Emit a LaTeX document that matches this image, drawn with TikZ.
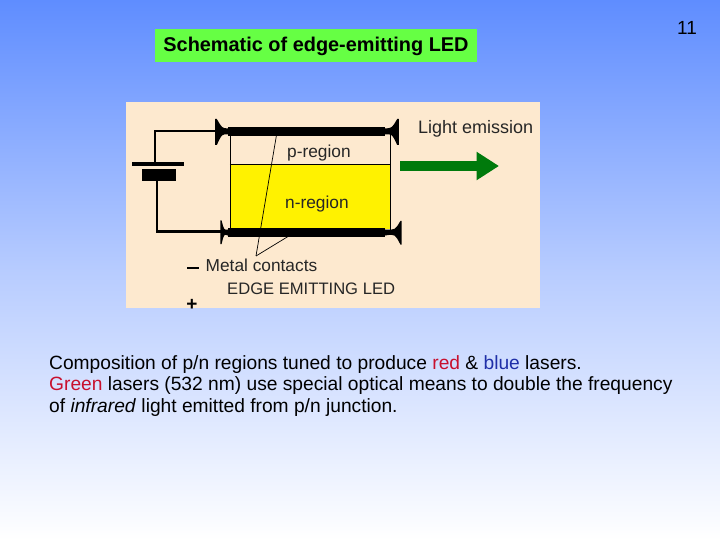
\documentclass[tikz,border=0pt]{standalone}
\usepackage{fontspec}
\setmainfont{Liberation Sans}
\usetikzlibrary{calc,arrows.meta,positioning}
\definecolor{skyx}{HTML}{5F8DFF}
\definecolor{beigex}{HTML}{FDE9CF}
\definecolor{titlex}{HTML}{66FF44}
\definecolor{emitx}{HTML}{007A0C}
\definecolor{redx}{HTML}{C8102E}
\definecolor{bluex}{HTML}{1F2FA8}
\tikzset{
  wire/.style={line width=2pt,black},
  plate/.style={fill=black,draw=none,inner sep=0pt},
  leader/.style={line width=0.7pt,black},
  lbl/.style={font=\fontsize{17.3}{20}\selectfont,text=black!85,inner sep=0pt},
  tick/.style={fill=black,draw=none}
}
\begin{document}
\begin{tikzpicture}[x=1pt,y=-1pt]
\useasboundingbox (0,0) rectangle (720,540);
\shade[top color=skyx,bottom color=white,middle color=skyx!45!white] (0,0) rectangle (720,540);
\node[fill=titlex,minimum width=322pt,minimum height=33pt,inner sep=0pt] (title) at (316,45.5) {};
\node[font=\fontsize{19.9}{22}\selectfont\bfseries,inner sep=0pt,anchor=base] (titletext) at (316,52) {Schematic of edge-emitting LED};
\node[font=\fontsize{19}{20}\selectfont,inner sep=0pt] (page) at (687,27.5) {11};
\node[fill=beigex,minimum width=414pt,minimum height=206pt,inner sep=0pt] (panel) at (333,205) {};
% regions
\node[fill=yellow,minimum width=160pt,minimum height=64pt,inner sep=0pt] (nreg) at (310,197) {};
\draw[line width=0.6pt] (230,131) -- (230,232) (390,131) -- (390,232);
\draw[line width=0.6pt] (nreg.north west) -- (nreg.north east);
\node[plate,minimum width=157pt,minimum height=8.5pt] (ptop) at (306.5,131.5) {};
\node[plate,minimum width=157pt,minimum height=8.5pt] (pbot) at (306.5,232.5) {};
% contact terminals
\coordinate (tl) at (216,131);
\coordinate (tr) at (398,131);
\coordinate (bl) at (221,231.5);
\coordinate (br) at (401,232);
\fill[tick] ($(ptop.west)+(0,-3)$) .. controls (222,128) .. ($(tl)+(0.8,-12)$) -- ($(tl)+(-0.8,-12)$) -- ($(tl)+(-0.8,14)$) -- ($(tl)+(0.8,14)$) .. controls (222,134) .. ($(ptop.west)+(0,3)$) -- cycle;
\fill[tick] ($(ptop.east)+(0,-3)$) .. controls (392,128) .. ($(tr)+(-0.8,-12)$) -- ($(tr)+(0.8,-12)$) -- ($(tr)+(0.8,14)$) -- ($(tr)+(-0.8,14)$) .. controls (392,134) .. ($(ptop.east)+(0,3)$) -- cycle;
\fill[tick] ($(pbot.west)+(0,-3)$) .. controls (224,230) .. ($(bl)+(0.6,-11)$) -- ($(bl)+(-0.6,-11)$) -- ($(bl)+(-0.6,12.5)$) -- ($(bl)+(0.6,12.5)$) .. controls (224,234) .. ($(pbot.west)+(0,3)$) -- cycle;
\fill[tick] ($(pbot.east)+(0,-3)$) .. controls (395,230) .. ($(br)+(-0.6,-11)$) -- ($(br)+(0.6,-11)$) -- ($(br)+(0.6,12.5)$) -- ($(br)+(-0.6,12.5)$) .. controls (395,234) .. ($(pbot.east)+(0,3)$) -- cycle;
% battery
\node[plate,minimum width=52pt,minimum height=3.5pt] (batlong) at (158,164) {};
\node[plate,minimum width=34pt,minimum height=12pt] (batshort) at (159,175) {};
\coordinate (wt) at (155,131);
\coordinate (wb) at (157,231.5);
\draw[wire] (batlong.north -| wt) -- (wt) -- (tl);
\draw[wire] (batshort.south -| wb) -- (wb) -- (bl);
% emission
\coordinate (emitstart) at (400,166);
\coordinate (emitend) at (499,166);
\draw[emitx,line width=10pt,-{Triangle[length=22.5pt,width=27pt]}] (emitstart) -- (emitend);
% labels
\node[lbl,anchor=base west] (plabel) at (287,158) {p-region};
\node[lbl,anchor=base west] (nlabel) at (285,208.5) {n-region};
\node[lbl,anchor=base west,font=\fontsize{18}{20}\selectfont] (light) at (418,133.5) {Light emission};
\node[lbl,anchor=base west] (metal) at (205.5,271.5) {Metal contacts};
\node[lbl,anchor=base west,font=\fontsize{16.6}{20}\selectfont] (edge) at (227,294.5) {EDGE EMITTING LED};
\node[fill=black,minimum width=12pt,minimum height=2pt,inner sep=0pt] (minus) at (192.8,268) {};
\node[font=\fontsize{19}{16}\selectfont\bfseries,inner sep=0pt] (plus) at (191.8,305) {+};
\coordinate (lead) at (256,256);
\draw[leader] (lead) -- (276.5,135);
\draw[leader] (lead) -- (288,236.5);
% caption
\node[anchor=north west,align=left,inner sep=0pt,font=\fontsize{19.2}{21.7}\selectfont] (caption) at (49,355) {Composition of p/n regions tuned to produce \textcolor{redx}{red} \& \textcolor{bluex}{blue} lasers.\\
\textcolor{redx}{Green} lasers (532 nm) use special optical means to double the frequency\\
of \textit{infrared} light emitted from p/n junction.};
\end{tikzpicture}
\end{document}
